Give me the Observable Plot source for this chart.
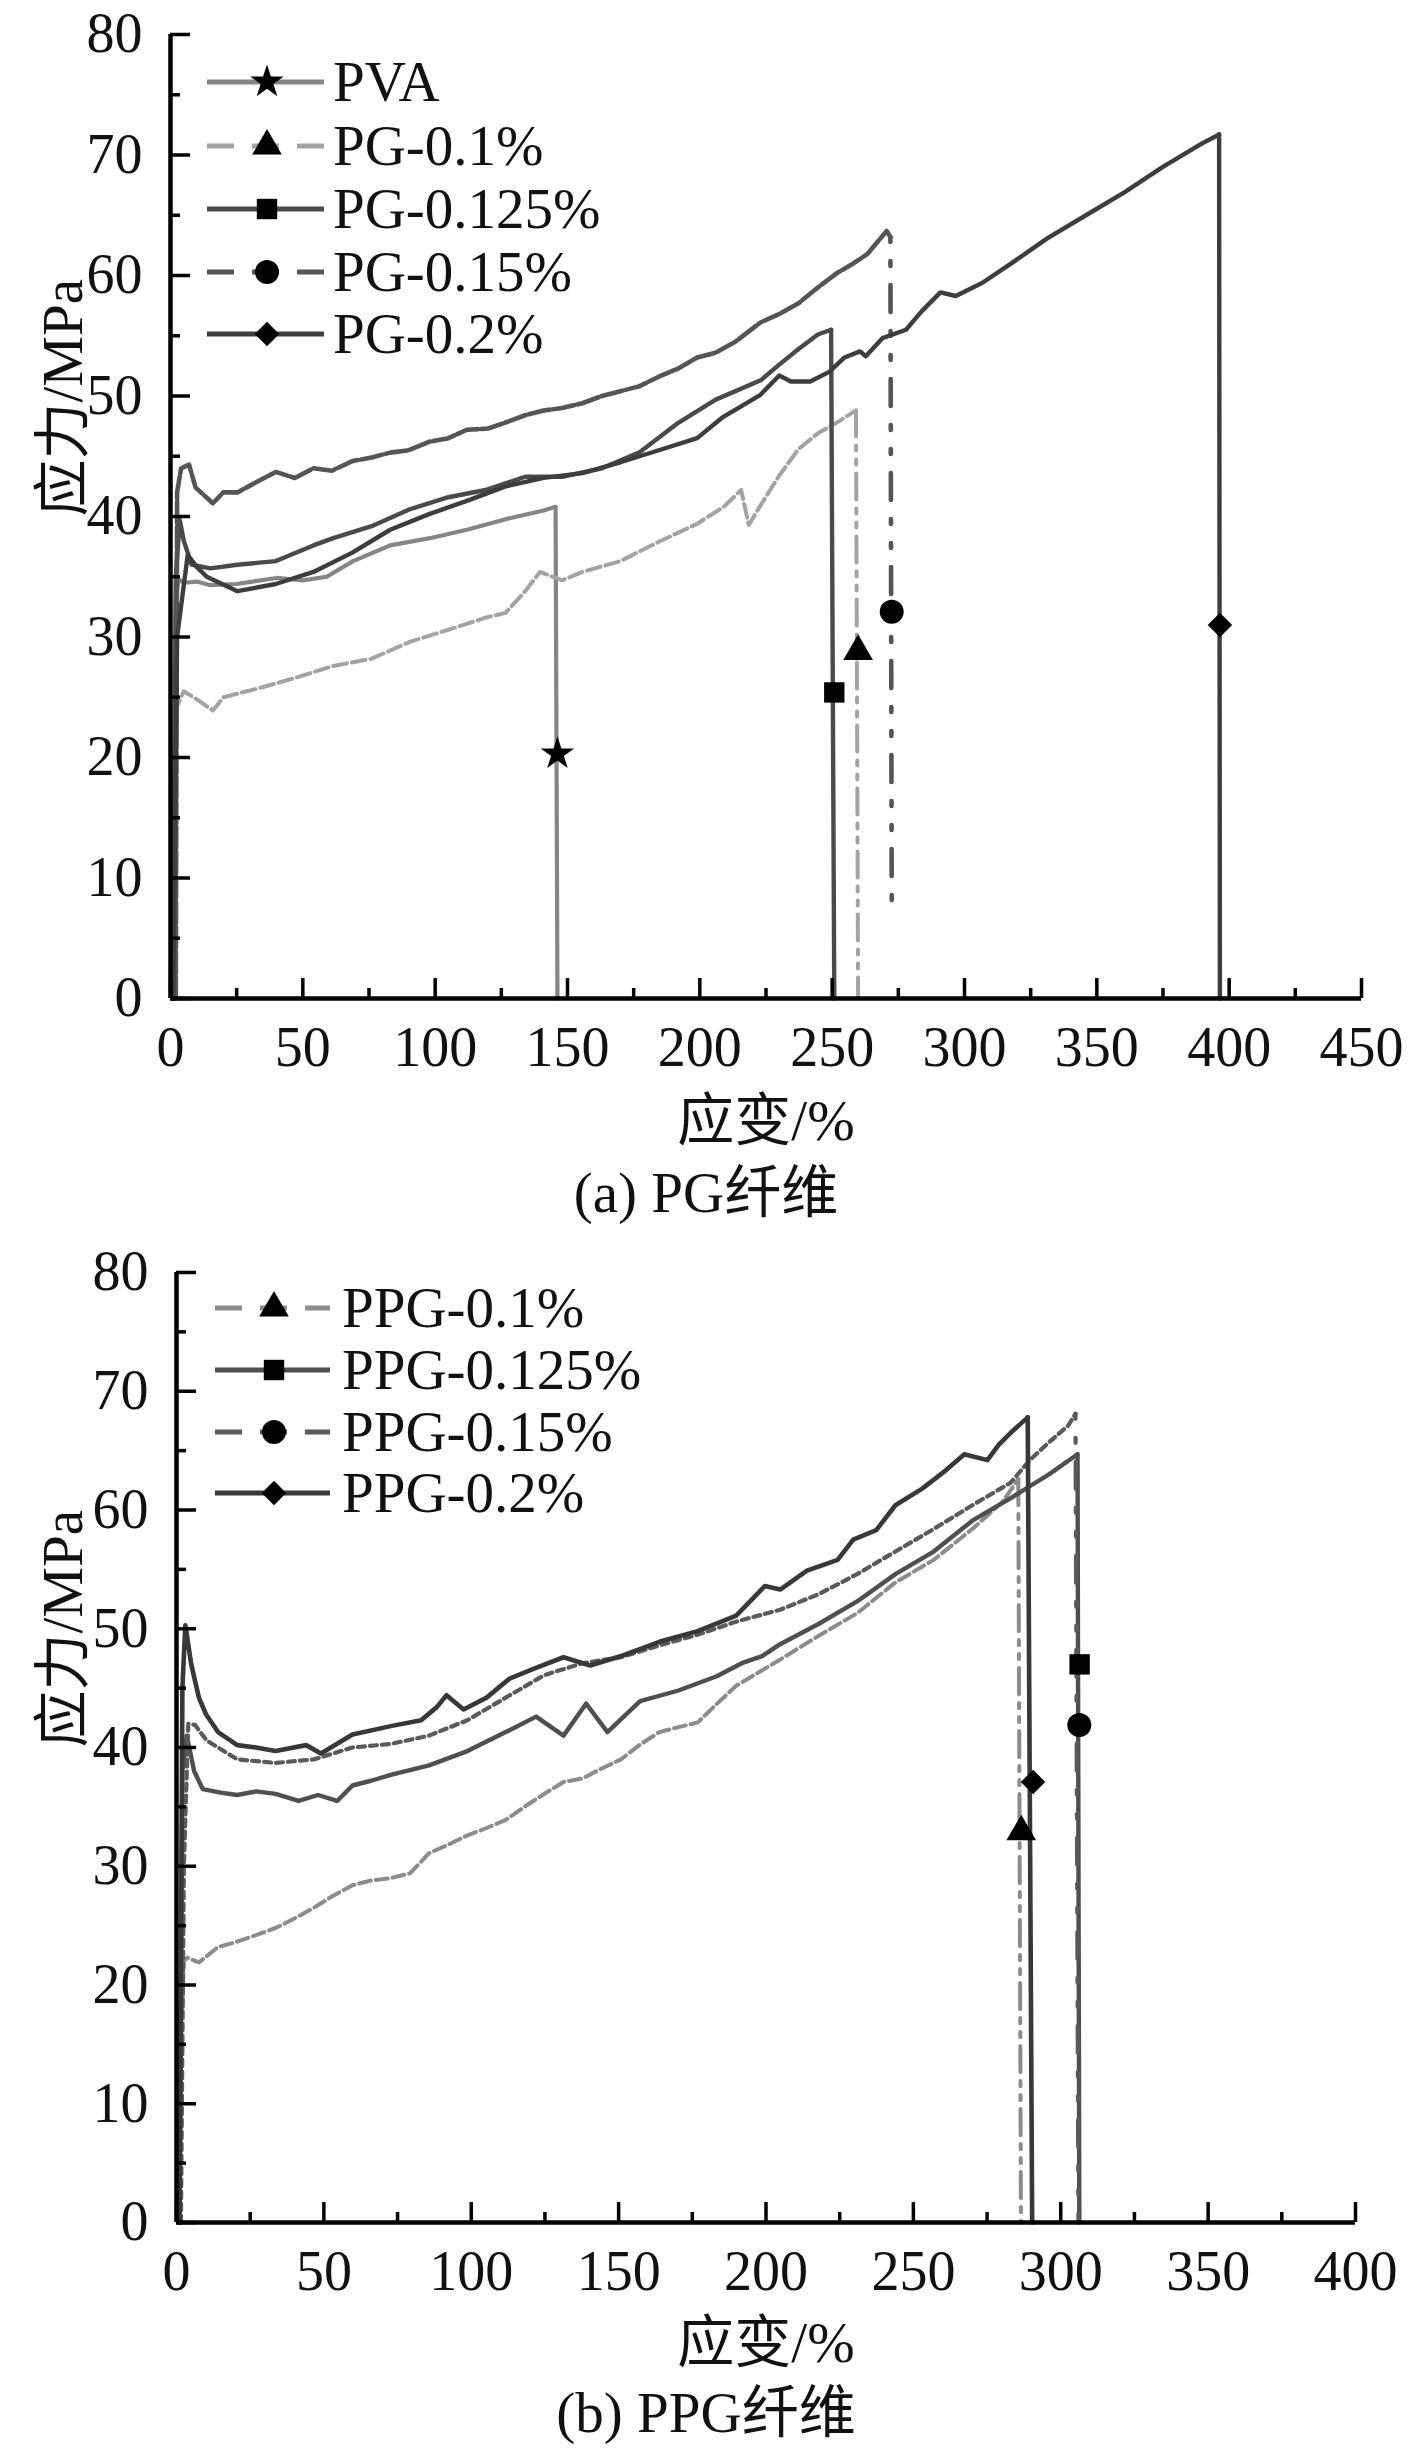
<!DOCTYPE html>
<html>
<head>
<meta charset="utf-8">
<script src="https://cdn.jsdelivr.net/npm/d3@7"></script>
<script src="https://cdn.jsdelivr.net/npm/@observablehq/plot@0.6"></script>
<style>
  html, body { margin: 0; padding: 0; background: #fff; }
  #page { position: relative; width: 1412px; height: 2460px; overflow: hidden; background: #fff; }
  .chart { position: absolute; left: 0; }
  .cap { position: absolute; left: 0; width: 1412px; text-align: center; font-size: 57px; line-height: 57px;
         font-family: "Liberation Serif", "Times New Roman", "Noto Sans CJK SC", serif; color: #111; }
  #legend { position: absolute; left: 0; top: 0; pointer-events: none; }
</style>
</head>
<body>
<div id="page">
  <div id="chartA" class="chart" style="top:0px"></div>
  <div id="capA" class="cap" style="top:1164px">(a) PG纤维</div>
  <div id="chartB" class="chart" style="top:1238px"></div>
  <div id="capB" class="cap" style="top:2384px">(b) PPG纤维</div>
</div>
<script>
// ---------- (a) PG fibre : [strain %, stress MPa]; last point = end of failure drop ----------
const PVA = [[1,0],[2,33],[3,34.8],[5,34.5],[10,34.6],[15,34.3],[25,34.4],[40,34.9],[50,34.7],[59,35],[69,36.3],[83,37.6],[98,38.2],[112,38.9],[127,39.8],[141,40.5],[145.5,40.8],[146.2,0]];
const PG01 = [[1,0],[2,24],[5,25.5],[9.5,24.9],[16,23.9],[20,25],[32.6,25.7],[47,26.6],[61.5,27.6],[76,28.2],[90.4,29.6],[105,30.6],[119,31.6],[126.6,32],[134,33.8],[139.6,35.4],[148,34.7],[155.6,35.4],[170,36.3],[184.5,37.9],[199,39.4],[209,40.8],[215.6,42.2],[218.5,39.3],[222.9,40.9],[230,43.4],[237.3,45.6],[244.6,46.9],[251.8,47.8],[259,48.8],[259.8,0]];
const PG0125 = [[1,0],[2,35],[3.5,39.7],[5,38],[8,36],[15,35.7],[25.3,36],[39.8,36.3],[54,37.6],[61.5,38.2],[76,39.2],[90.4,40.6],[105,41.6],[119,42.2],[134,43.3],[148,43.3],[163,44],[177,45.3],[192,47.8],[206,49.7],[223,51.3],[230,52.6],[237.3,53.9],[244.6,55.1],[249.6,55.5],[250.8,0]];
const PG015 = [[2,0],[2.5,42],[4,44],[7,44.3],[9.5,42.4],[16,41.1],[20,42],[25.3,42],[32,42.8],[39.8,43.7],[47,43.2],[54,44],[61,43.8],[68.7,44.6],[76,44.9],[83,45.3],[90,45.5],[97.7,46.2],[105,46.5],[112,47.2],[120,47.3],[126.6,47.8],[134,48.4],[141,48.8],[148,49],[155.6,49.4],[163,50],[170,50.4],[177,50.8],[184.5,51.6],[192,52.3],[199,53.2],[206,53.6],[213.4,54.5],[222.9,56.1],[230,56.8],[237.3,57.7],[244.6,59],[251.8,60.2],[258,61],[263.4,61.8],[270.6,63.7],[272,63.2],[272.5,8]];
const PG02 = [[1,0],[2.5,30],[6.5,36.8],[10,35.8],[13.7,35],[25.3,33.8],[39.8,34.4],[54,35.4],[68.7,37],[83,38.9],[97.7,40.2],[112,41.3],[126.6,42.5],[141,43.2],[155.6,43.6],[170,44.5],[184.5,45.5],[199,46.5],[208.4,48.2],[222.9,50.1],[230,51.7],[234.4,51.2],[241.7,51.2],[248.9,52],[254.7,53.2],[260.5,53.7],[262.7,53.3],[269,54.8],[277.9,55.5],[283.7,57],[290.9,58.6],[296.7,58.3],[306.8,59.4],[317,60.9],[331.4,63.1],[345.9,65],[360.4,66.9],[374.8,69],[389.3,70.9],[396.2,71.7],[396.5,0]];
const namesA = ["PVA","PG-0.1%","PG-0.125%","PG-0.15%","PG-0.2%"];
const markerStrainA = [146.2, 259.8, 250.8, 272.5, 396.5];
const markerStressA = [20.3, 28.8, 25.4, 32.1, 31.0];
const xTicksA = [0,50,100,150,200,250,300,350,400,450];

// ---------- (b) PPG fibre ----------
const PPG01 = [[1,0],[1.5,15],[2.5,22],[3.7,22.3],[7.6,21.9],[14.1,23.2],[20,23.6],[27,24.2],[33.6,24.8],[40,25.6],[46.6,26.5],[53,27.5],[59.7,28.4],[66,28.8],[72.7,29],[79.2,29.4],[85.7,31.1],[92,31.8],[98.7,32.6],[105,33.2],[111.7,33.9],[118,35],[124.8,36.1],[131.3,37.1],[137.8,37.4],[144,38.2],[150.8,39],[157,40.2],[163.8,41.3],[170,41.7],[176.8,42.1],[183,43.6],[189.9,45.2],[198.7,46.5],[204.8,47.4],[217.8,49.4],[230.9,51.3],[243.9,53.9],[256.9,55.8],[270,58.4],[280.3,60.7],[285.6,62.6],[286.5,0]];
const PPG0125 = [[1,0],[2,38],[3.5,41],[6,38],[8.9,36.5],[15,36.2],[20.6,36],[27,36.3],[33.6,36.1],[41.4,35.5],[48,36],[54.5,35.5],[59.7,36.8],[66,37.2],[72.7,37.7],[85.7,38.5],[98.7,39.7],[111.7,41.3],[122,42.6],[131.3,41],[139,43.7],[146.2,41.3],[157.3,43.9],[170.3,44.8],[183.3,46],[191.8,47.1],[198.7,47.7],[204.8,48.7],[217.8,50.4],[230.9,52.3],[243.9,54.6],[256.9,56.5],[270,59.1],[283,61],[289.5,62],[296,63],[305.7,64.7],[306.3,0]];
const PPG015 = [[1.5,0],[2.5,30],[4,42],[6.3,41.9],[10.2,40.6],[20.6,39],[33.6,38.7],[46.6,39],[59.7,40],[72.7,40.3],[85.7,41],[98.7,42.3],[111.7,44.2],[124.8,46.1],[137.8,47.1],[150.8,47.6],[163.8,48.6],[176.8,49.5],[189.9,50.6],[204.8,51.6],[217.8,52.9],[230.9,54.6],[243.9,56.5],[256.9,58.4],[270,60.4],[283,62.3],[289.5,64.2],[296,65.7],[302.5,67.1],[305,68.1],[306,0]];
const PPG02 = [[1,0],[2,45],[3,50.3],[5,47],[7.6,44.2],[10,42.8],[14.1,41.3],[20.6,40.2],[27,40],[33.6,39.7],[44,40.2],[49,39.5],[59.7,41.1],[72.7,41.8],[83,42.3],[88.3,43.4],[91.6,44.4],[97.4,43.2],[105.2,44.2],[113,45.8],[120.9,46.6],[131.3,47.6],[140.4,46.9],[150.8,47.7],[163.8,48.9],[176.8,49.8],[189.9,51.1],[199.6,53.6],[204.8,53.3],[213.9,54.9],[224.3,55.8],[229.6,57.5],[237.4,58.3],[243.9,60.4],[253,61.8],[260.8,63.3],[267.3,64.7],[275.1,64.2],[279,65.5],[283,66.5],[288.8,67.8],[290.3,0]];
const namesB = ["PPG-0.1%","PPG-0.125%","PPG-0.15%","PPG-0.2%"];
const markerStrainB = [286.6, 306.4, 306.3, 290.6];
const markerStressB = [32.9, 47.0, 41.9, 37.1];
const xTicksB = [0,50,100,150,200,250,300,350,400];

const yTicks = [0,10,20,30,40,50,60,70,80];

// ---------- styles ----------
const FONT = '"Liberation Serif", "Times New Roman", "Noto Sans CJK SC", serif';
const styleA = [
  {data: PVA,    color: "#858585", w: 4.2, curveDash: null,    dropDash: null,               symbol: "star",     r: 10.5, legendDash: null},
  {data: PG01,   color: "#a3a3a3", w: 4,   curveDash: "14,5",  dropDash: "26,9,5,9,5,9",     symbol: "triangle", r: 11,   legendDash: "27,18"},
  {data: PG0125, color: "#4a4a4a", w: 4.4, curveDash: null,    dropDash: null,               symbol: "square",   r: 11.5, legendDash: null},
  {data: PG015,  color: "#555555", w: 4.6, curveDash: "22,3",  dropDash: "5,19,5,19,27,19",  symbol: "circle",   r: 12,   legendDash: "27,18"},
  {data: PG02,   color: "#3d3d3d", w: 4.4, curveDash: null,    dropDash: null,               symbol: "diamond2", r: 11,   legendDash: null}
];
const styleB = [
  {data: PPG01,   color: "#8c8c8c", w: 4,   curveDash: "12,5",  dropDash: "26,9,5,9,5,9",    symbol: "triangle", r: 11,   legendDash: "27,18"},
  {data: PPG0125, color: "#4f4f4f", w: 4.4, curveDash: null,    dropDash: null,              symbol: "square",   r: 11.5, legendDash: null},
  {data: PPG015,  color: "#5a5a5a", w: 4.2, curveDash: "7,5",   dropDash: "5,19,5,19,27,19", symbol: "circle",   r: 12,   legendDash: "27,18"},
  {data: PPG02,   color: "#383838", w: 4.6, curveDash: null,    dropDash: null,              symbol: "diamond2", r: 11,   legendDash: null}
];

function makeChart(cfg) {
  const marks = [];
  cfg.styles.forEach(s => {
    const curve = s.data.slice(0, -1);
    const drop = s.data.slice(-2);
    marks.push(Plot.line(curve, {x: d => d[0], y: d => d[1], stroke: s.color, strokeWidth: s.w,
      strokeDasharray: s.curveDash, strokeLinejoin: "round"}));
    marks.push(Plot.line(drop, {x: d => d[0], y: d => d[1], stroke: s.color, strokeWidth: s.w,
      strokeDasharray: s.dropDash}));
  });
  const xMinor = d3.range(25, cfg.xmax, 50);
  const yMinor = d3.range(5, 80, 10);
  marks.push(
    Plot.ruleX([0], {stroke: "#000", strokeWidth: 4.5}),
    Plot.ruleY([0], {stroke: "#000", strokeWidth: 4.5}),
    Plot.axisY({ticks: yTicks, tickSize: -20, tickFormat: () => "", strokeWidth: 3.5, stroke: "#000", label: null}),
    Plot.axisY({ticks: yMinor, tickSize: -10, tickFormat: () => "", strokeWidth: 3.5, stroke: "#000", label: null}),
    Plot.axisY({ticks: yTicks, tickSize: 0, tickPadding: 28, fontSize: 56, fontFamily: FONT, fill: "#111", label: null}),
    Plot.axisX({ticks: cfg.xTicks, tickSize: -20, tickFormat: () => "", strokeWidth: 3.5, stroke: "#000", label: null}),
    Plot.axisX({ticks: xMinor, tickSize: -10, tickFormat: () => "", strokeWidth: 3.5, stroke: "#000", label: null}),
    Plot.axisX({ticks: cfg.xTicks, tickSize: 0, tickPadding: 28, fontSize: 56, fontFamily: FONT, fill: "#111", label: null}),
    Plot.text(["应变/%"], {frameAnchor: "bottom", dy: cfg.xLabelDy, fontSize: 57, fontFamily: FONT, fill: "#111"}),
    Plot.text(["应力/MPa"], {frameAnchor: "left", dx: cfg.yLabelDx, rotate: -90, fontSize: 57, fontFamily: FONT, fill: "#111"})
  );
  cfg.styles.forEach((s, i) => {
    marks.push(Plot.dot([[cfg.mx[i], cfg.my[i]]], {x: d => d[0], y: d => d[1], symbol: s.symbol, r: s.r, fill: "#000", stroke: "none"}));
  });
  return Plot.plot({
    width: 1412, height: 1150,
    marginLeft: cfg.ml, marginRight: cfg.mr, marginTop: 34, marginBottom: cfg.mb,
    x: {domain: [0, cfg.xmax]},
    y: {domain: [0, 80]},
    style: {background: "#fff", overflow: "visible"},
    marks
  });
}

document.getElementById("chartA").append(makeChart({
  styles: styleA, xmax: 450, xTicks: xTicksA, mx: markerStrainA, my: markerStressA,
  ml: 170, mr: 51, mb: 152, xLabelDy: 141, yLabelDx: -107
}));
document.getElementById("chartB").append(makeChart({
  styles: styleB, xmax: 400, xTicks: xTicksB, mx: markerStrainB, my: markerStressB,
  ml: 176, mr: 57, mb: 166, xLabelDy: 139, yLabelDx: -113
}));

// ---------- legends (overlay) ----------
function drawLegend(svg, names, styles, rows, x0, x1, xm, xt) {
  names.forEach((name, i) => {
    const s = styles[i], y = rows[i];
    svg.append("line").attr("x1", x0).attr("x2", x1).attr("y1", y).attr("y2", y)
      .attr("stroke", s.color).attr("stroke-width", 5)
      .attr("stroke-dasharray", s.legendDash || null);
    const symMap = {star: d3.symbolStar, triangle: d3.symbolTriangle, square: d3.symbolSquare, circle: d3.symbolCircle, diamond2: d3.symbolDiamond2};
    const area = Math.PI * s.r * s.r;
    svg.append("path").attr("d", d3.symbol(symMap[s.symbol], area)())
      .attr("transform", `translate(${xm},${y})`).attr("fill", "#000");
    svg.append("text").attr("x", xt).attr("y", y).attr("dy", "0.34em")
      .attr("font-size", 57).attr("font-family", FONT).attr("fill", "#111").text(name);
  });
}
const legend = d3.select("#page").append("svg").attr("id", "legend").attr("width", 1412).attr("height", 2460);
drawLegend(legend, namesA, styleA, [82, 146, 209, 272, 334], 207, 324, 267, 333);
drawLegend(legend, namesB, styleB, [1308, 1370, 1432, 1493], 215, 330, 274, 342);
</script>
</body>
</html>
